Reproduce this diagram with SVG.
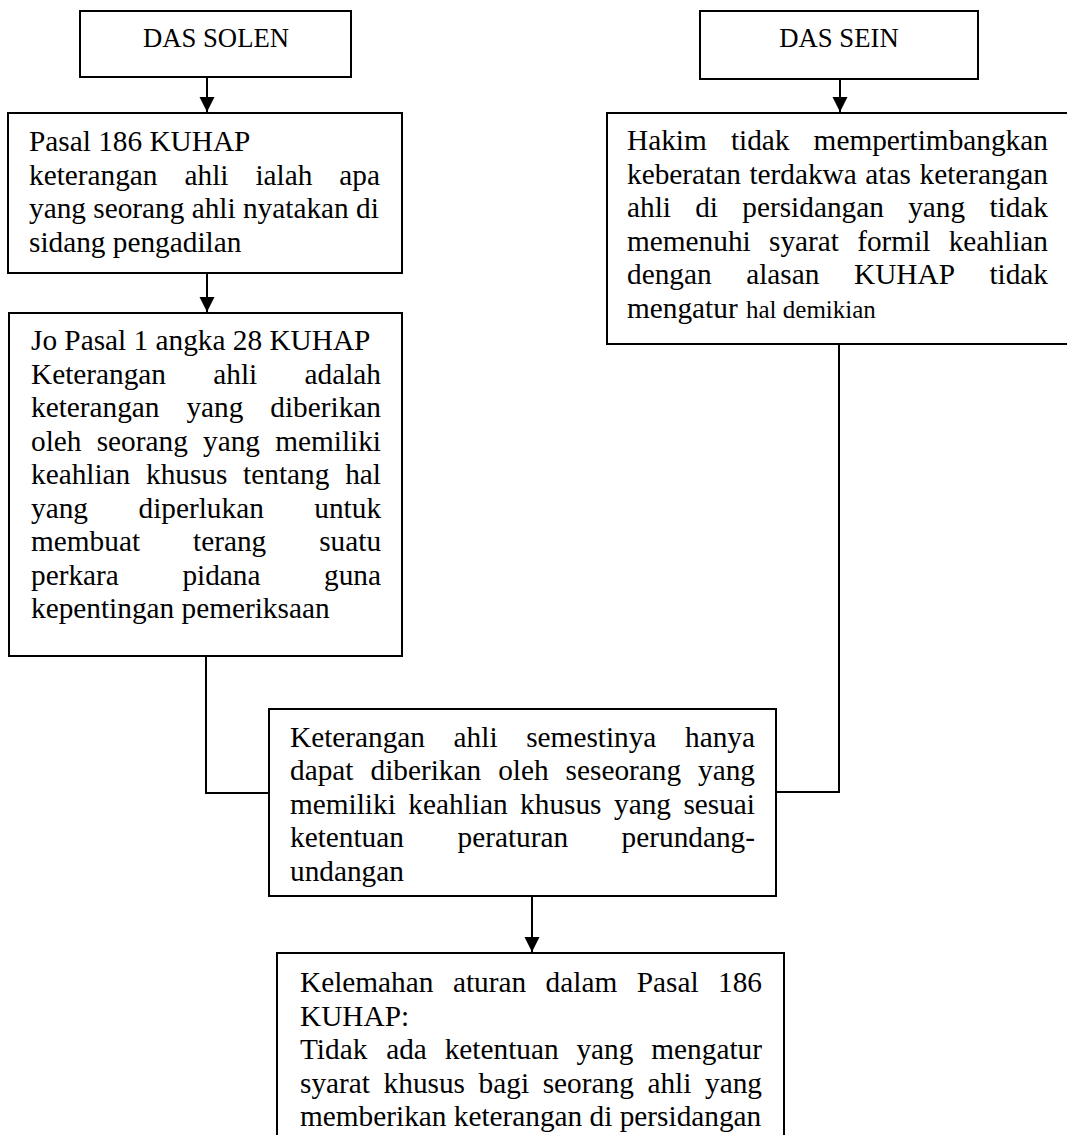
<svg xmlns="http://www.w3.org/2000/svg" width="1067" height="1135" viewBox="0 0 1067 1135">
<style>
.box{fill:#fff;stroke:#000;stroke-width:2}
.ln{fill:none;stroke:#000;stroke-width:2}
.t{font-family:"Liberation Serif","Times New Roman",serif;font-size:29.3px;fill:#000}
.h{font-family:"Liberation Serif","Times New Roman",serif;font-size:26.7px;fill:#000}
.s{font-size:25px}
</style>
<defs>
<marker id="ah" markerWidth="16" markerHeight="16" refX="15" refY="7.5" orient="auto" markerUnits="userSpaceOnUse">
<path d="M0,0 L15,7.5 L0,15 Z" fill="#000"/>
</marker>
</defs>
<rect width="1067" height="1135" fill="#fff"/>
<g id="connectors">
<line class="ln" x1="207" y1="77" x2="207" y2="112" marker-end="url(#ah)"/>
<line class="ln" x1="207" y1="273" x2="207" y2="312" marker-end="url(#ah)"/>
<line class="ln" x1="840" y1="79" x2="840" y2="112" marker-end="url(#ah)"/>
<polyline class="ln" points="206,656 206,793 270,793"/>
<polyline class="ln" points="839,345 839,792 776,792"/>
<line class="ln" x1="532" y1="896" x2="532" y2="952" marker-end="url(#ah)"/>
</g>
<g id="das-solen">
<rect class="box" x="80" y="11" width="271" height="66"/>
<text class="h" x="216" y="47" text-anchor="middle">DAS SOLEN</text>
</g>
<g id="das-sein">
<rect class="box" x="700" y="11" width="278" height="68"/>
<text class="h" x="839" y="47" text-anchor="middle">DAS SEIN</text>
</g>
<g id="pasal-186">
<rect class="box" x="8" y="113" width="394" height="160"/>
<text class="t" x="29" y="151">Pasal 186 KUHAP</text>
<text class="t" y="184.5"><tspan x="29">keterangan</tspan><tspan x="184.5">ahli</tspan><tspan x="255.4">ialah</tspan><tspan x="339.3">apa</tspan></text>
<text class="t" x="29" y="218">yang seorang ahli nyatakan di</text>
<text class="t" x="29" y="251.5">sidang pengadilan</text>
</g>
<g id="pasal-1-angka-28">
<rect class="box" x="9" y="313" width="393" height="343"/>
<text class="t" x="31" y="350">Jo Pasal 1 angka 28 KUHAP</text>
<text class="t" y="383.5"><tspan x="31">Keterangan</tspan><tspan x="213.3">ahli</tspan><tspan x="304.5">adalah</tspan></text>
<text class="t" y="417"><tspan x="31">keterangan</tspan><tspan x="186.4">yang</tspan><tspan x="270.3">diberikan</tspan></text>
<text class="t" y="450.5"><tspan x="31">oleh</tspan><tspan x="96.7">seorang</tspan><tspan x="203">yang</tspan><tspan x="275.2">memiliki</tspan></text>
<text class="t" y="484"><tspan x="31">keahlian</tspan><tspan x="146">khusus</tspan><tspan x="243.1">tentang</tspan><tspan x="345.2">hal</tspan></text>
<text class="t" y="517.5"><tspan x="31">yang</tspan><tspan x="138.5">diperlukan</tspan><tspan x="314.3">untuk</tspan></text>
<text class="t" y="551"><tspan x="31">membuat</tspan><tspan x="193">terang</tspan><tspan x="319.2">suatu</tspan></text>
<text class="t" y="584.5"><tspan x="31">perkara</tspan><tspan x="182.4">pidana</tspan><tspan x="324">guna</tspan></text>
<text class="t" x="31" y="618">kepentingan pemeriksaan</text>
</g>
<g id="hakim">
<rect class="box" x="607" y="113" width="470" height="231"/>
<text class="t" y="150"><tspan x="627">Hakim</tspan><tspan x="730.9">tidak</tspan><tspan x="813.6">mempertimbangkan</tspan></text>
<text class="t" y="183.5"><tspan x="627">keberatan</tspan><tspan x="749.4">terdakwa</tspan><tspan x="865.3">atas</tspan><tspan x="919.5">keterangan</tspan></text>
<text class="t" y="217"><tspan x="627">ahli</tspan><tspan x="695.2">di</tspan><tspan x="742.3">persidangan</tspan><tspan x="908.2">yang</tspan><tspan x="989.4">tidak</tspan></text>
<text class="t" y="250.5"><tspan x="627">memenuhi</tspan><tspan x="769">syarat</tspan><tspan x="857.2">formil</tspan><tspan x="948.7">keahlian</tspan></text>
<text class="t" y="284"><tspan x="627">dengan</tspan><tspan x="746.2">alasan</tspan><tspan x="854">KUHAP</tspan><tspan x="989.4">tidak</tspan></text>
<text class="t" y="317.5"><tspan x="627">mengatur </tspan><tspan class="s" x="746">hal demikian</tspan></text>
</g>
<g id="keterangan-ahli">
<rect class="box" x="269" y="709" width="507" height="187"/>
<text class="t" y="746.7"><tspan x="290">Keterangan</tspan><tspan x="453.6">ahli</tspan><tspan x="526.2">semestinya</tspan><tspan x="685">hanya</tspan></text>
<text class="t" y="780.2"><tspan x="290">dapat</tspan><tspan x="370.5">diberikan</tspan><tspan x="498.2">oleh</tspan><tspan x="565.6">seseorang</tspan><tspan x="698">yang</tspan></text>
<text class="t" y="813.7"><tspan x="290">memiliki</tspan><tspan x="408.3">keahlian</tspan><tspan x="520.1">khusus</tspan><tspan x="614">yang</tspan><tspan x="683.4">sesuai</tspan></text>
<text class="t" y="847.2"><tspan x="290">ketentuan</tspan><tspan x="457.5">peraturan</tspan><tspan x="621.6">perundang-</tspan></text>
<text class="t" x="290" y="880.7">undangan</text>
</g>
<g id="kelemahan">
<rect class="box" x="277" y="953" width="507" height="200"/>
<text class="t" y="992"><tspan x="300">Kelemahan</tspan><tspan x="452.9">aturan</tspan><tspan x="545.6">dalam</tspan><tspan x="636.7">Pasal</tspan><tspan x="718">186</tspan></text>
<text class="t" x="300" y="1025.5">KUHAP:</text>
<text class="t" y="1059"><tspan x="300">Tidak</tspan><tspan x="386.2">ada</tspan><tspan x="444.7">ketentuan</tspan><tspan x="576.4">yang</tspan><tspan x="651.3">mengatur</tspan></text>
<text class="t" y="1092.5"><tspan x="300">syarat</tspan><tspan x="383.6">khusus</tspan><tspan x="478.6">bagi</tspan><tspan x="542.7">seorang</tspan><tspan x="647.4">ahli</tspan><tspan x="705">yang</tspan></text>
<text class="t" x="300" y="1126">memberikan keterangan di persidangan</text>
</g>
</svg>
